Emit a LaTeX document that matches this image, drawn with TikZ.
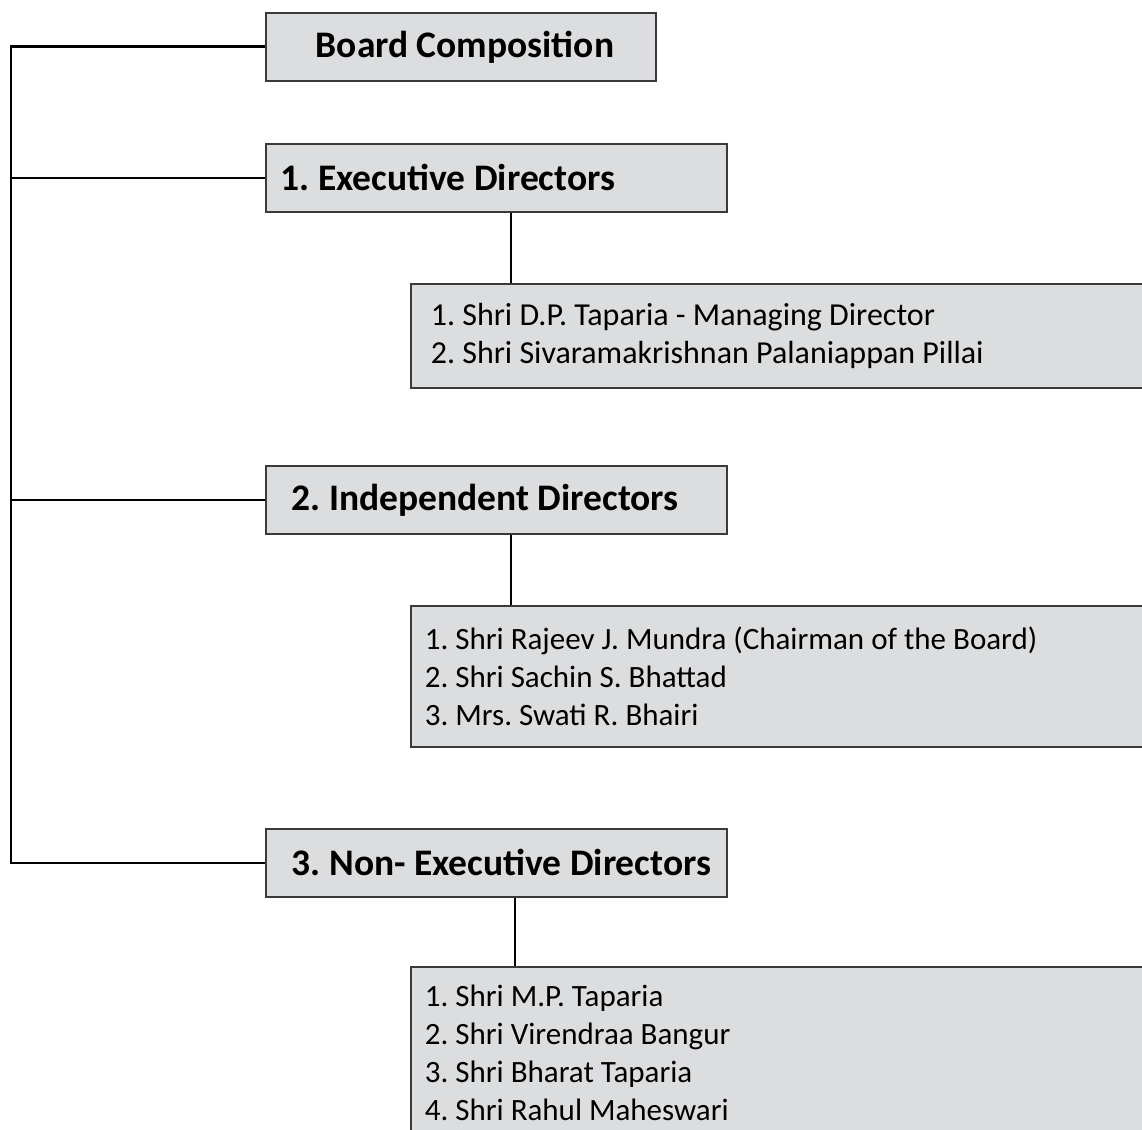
\documentclass[tikz,border=0pt]{standalone}
\usepackage{fontspec}
\setmainfont{Carlito}
\usepackage{tikz}
\usetikzlibrary{positioning}
\frenchspacing
\definecolor{boxgray}{RGB}{220,221,223}
\definecolor{edgegray}{RGB}{58,58,58}
\tikzset{
  headbox/.style={draw=edgegray, fill=boxgray, line width=1.6pt, rectangle,
    anchor=north west, minimum height=68pt, align=flush left, inner xsep=15pt, inner ysep=0pt,
    font=\fontsize{37.5}{44}\selectfont\bfseries},
  listbox/.style={draw=edgegray, fill=boxgray, line width=1.6pt, rectangle,
    anchor=north west, align=flush left, inner xsep=14pt, inner ysep=0pt, text width=732pt,
    font=\fontsize{31}{38}\selectfont},
  link/.style={draw=black, line width=2.6pt}
}
\begin{document}
\begin{tikzpicture}[x=1pt,y=-1pt]
\useasboundingbox (0,0) rectangle (1142,1129);
\clip (0,0) rectangle (1142,1129);
\fill[white] (0,0) rectangle (1142,1129);
% heading boxes
\node[headbox, text width=360pt] (board) at (265,12) {\hspace*{35pt}Board Composition};
\node[headbox, text width=431pt] (exec) at (265,143) {1. Executive Directors};
\node[headbox, text width=431pt] (indep) at (265,465) {\hspace*{11pt}2. Independent Directors};
\node[headbox, text width=431pt] (nonexec) at (265,828) {\hspace*{11pt}3. Non- Executive Directors};
% member lists
\node[listbox, minimum height=104pt, inner xsep=20pt, text width=720pt,
  font=\fontsize{32}{38}\selectfont] (execlist) at (410,283)
  {1. Shri D.P. Taparia - Managing Director\\2. Shri Sivaramakrishnan Palaniappan Pillai};
\node[listbox, minimum height=141pt] (indeplist) at (410,605)
  {1. Shri Rajeev J. Mundra (Chairman of the Board)\\2. Shri Sachin S. Bhattad\\3. Mrs. Swati R. Bhairi};
\node[listbox, minimum height=172pt] (nonexeclist) at (410,966)
  {1. Shri M.P. Taparia\\2. Shri Virendraa Bangur\\3. Shri Bharat Taparia\\4. Shri Rahul Maheswari};
% left trunk
\coordinate (trunk) at (11,0);
\draw[link] (board.west) -- (board.west -| trunk) |- (nonexec.west);
\draw[link] (exec.west) -- (exec.west -| trunk);
\draw[link] (indep.west) -- (indep.west -| trunk);
% drops to the lists
\draw[link] ([xshift=246]exec.south west) -- ([xshift=246]exec.south west |- execlist.north);
\draw[link] ([xshift=246]indep.south west) -- ([xshift=246]indep.south west |- indeplist.north);
\draw[link] ([xshift=250]nonexec.south west) -- ([xshift=250]nonexec.south west |- nonexeclist.north);
\end{tikzpicture}
\end{document}
